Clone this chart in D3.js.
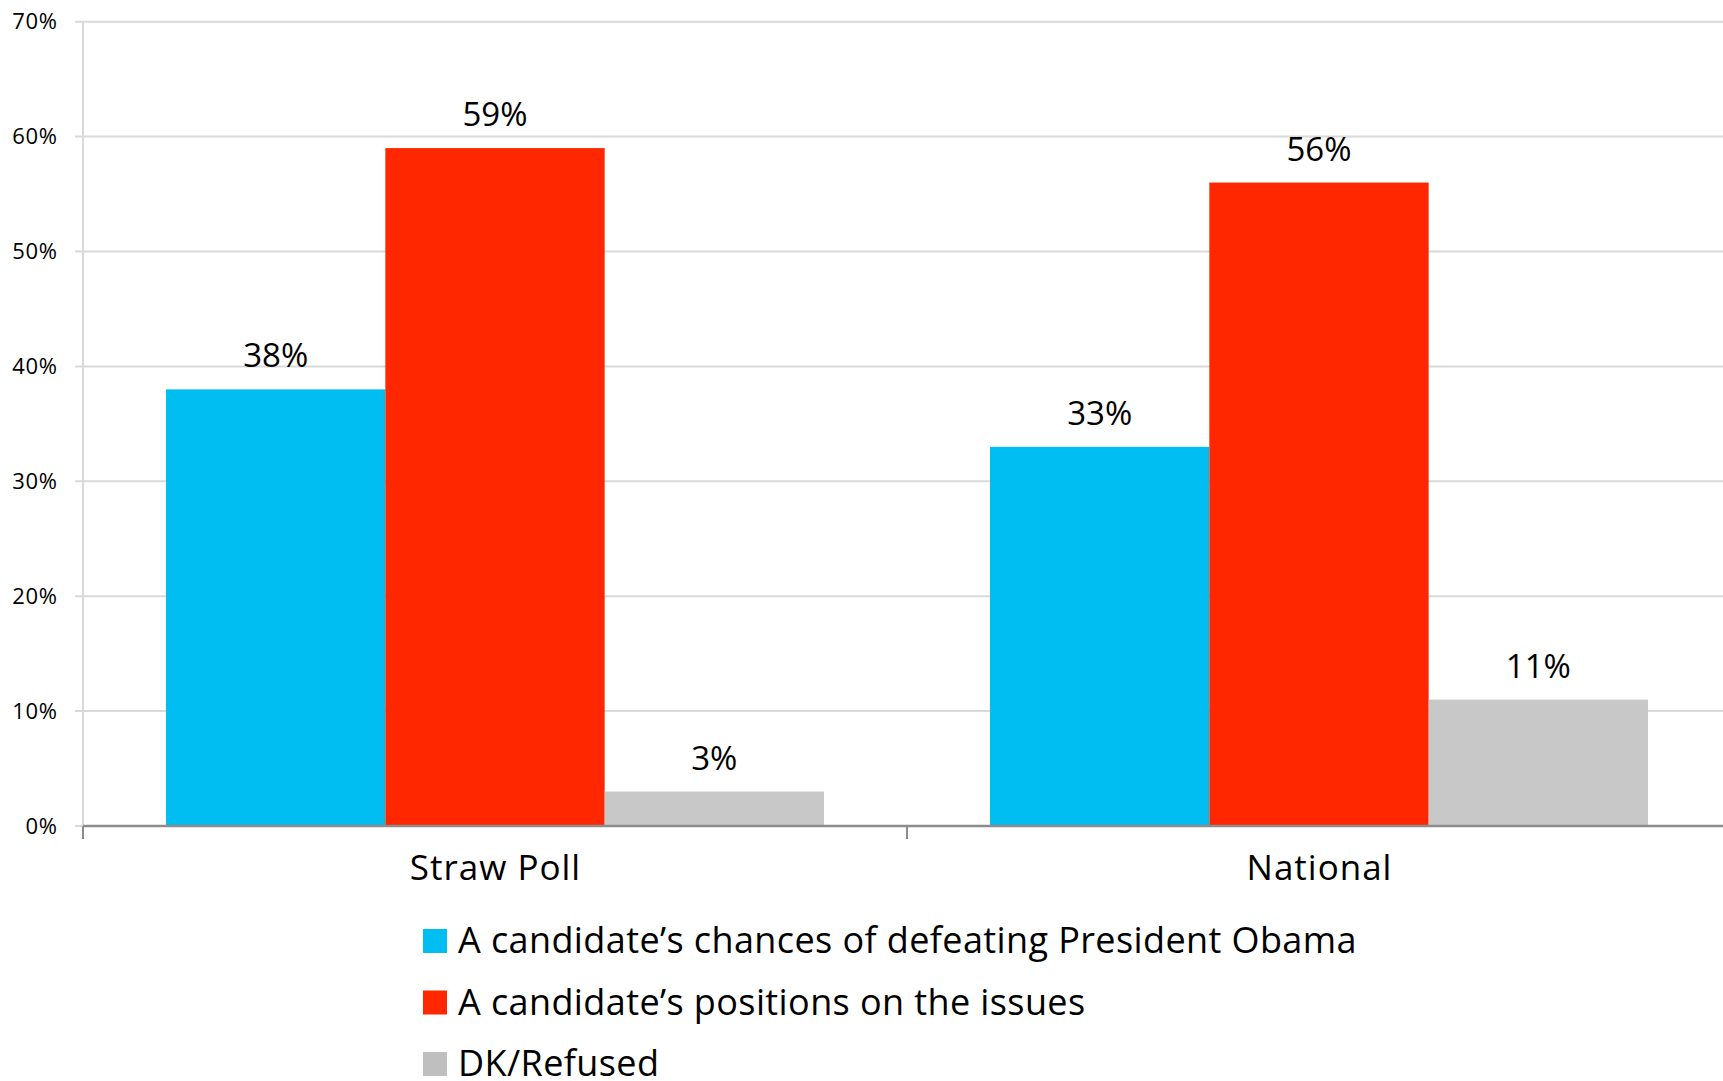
<!DOCTYPE html>
<html>
<head>
<meta charset="utf-8">
<script src="https://cdn.jsdelivr.net/npm/d3@7"></script>
<style>
  html, body { margin: 0; padding: 0; background: #fff; }
  svg { display: block; font-family: "Open Sans", sans-serif; }
</style>
</head>
<body>
<svg id="chart" width="1723" height="1081"></svg>
<script>
const categories = ["Straw Poll", "National"];
const seriesNames = [
  "A candidate\u2019s chances of defeating President Obama",
  "A candidate\u2019s positions on the issues",
  "DK/Refused"
];
const chancesValues = [38, 33];
const positionsValues = [59, 56];
const dkValues = [3, 11];
const yTicks = [0, 10, 20, 30, 40, 50, 60, 70];
const colors = ["#00bdf2", "#ff2700", "#c8c8c8"];
const legendColors = ["#00bdf2", "#ff2700", "#bfbfbf"];

const seriesValues = [chancesValues, positionsValues, dkValues];

(function () {
const svg = d3.select("#chart");
const left = 83, bandW = 824, plotTop = 21.7, plotBottom = 826;

const x0 = d3.scaleBand().domain(categories).range([left, left + bandW * categories.length]).padding(0);
const x1 = d3.scaleBand().domain(seriesNames).range([83, 741]).padding(0);
const y = d3.scaleLinear().domain([0, 70]).range([plotBottom, plotTop]);

// gridlines
const grid = svg.append("g");
grid.selectAll("line").data(yTicks.filter(d => d > 0)).join("line")
  .attr("x1", 75).attr("x2", 1723)
  .attr("y1", d => y(d)).attr("y2", d => y(d))
  .attr("stroke", "#d9d9d9").attr("stroke-width", 2);
// y axis line
svg.append("line").attr("x1", left).attr("x2", left).attr("y1", plotTop).attr("y2", plotBottom)
  .attr("stroke", "#d9d9d9").attr("stroke-width", 2);
// 0 tick stub
svg.append("line").attr("x1", 75).attr("x2", left).attr("y1", y(0)).attr("y2", y(0))
  .attr("stroke", "#d9d9d9").attr("stroke-width", 2);

// y tick labels
const yAxis = d3.axisLeft(y).tickValues(yTicks).tickFormat(d => d + "%").tickSize(0).tickPadding(0);
const yG = svg.append("g").attr("transform", `translate(57.5,0)`).call(yAxis);
yG.select(".domain").remove();
yG.selectAll("text").attr("font-size", 22).attr("fill", "#000")
  .attr("font-family", "Open Sans, sans-serif").attr("letter-spacing", 0.6);

// bars
const groups = svg.append("g").selectAll("g").data(categories).join("g")
  .attr("transform", d => `translate(${x0(d)},0)`);
groups.each(function(cat, ci) {
  const g = d3.select(this);
  seriesNames.forEach((s, si) => {
    const v = seriesValues[si][ci];
    g.append("rect")
      .attr("x", x1(s)).attr("width", x1.bandwidth())
      .attr("y", y(v)).attr("height", y(0) - y(v))
      .attr("fill", colors[si]);
    g.append("text")
      .attr("x", x1(s) + x1.bandwidth() / 2)
      .attr("y", y(v) - 22)
      .attr("text-anchor", "middle")
      .attr("font-size", 33)
      .attr("fill", "#000")
      .text(v + "%");
  });
});

// x axis
const xG = svg.append("g").attr("transform", `translate(0,${plotBottom})`);
xG.append("line").attr("x1", left).attr("x2", 1723).attr("y1", 0).attr("y2", 0)
  .attr("stroke", "#8c8c8c").attr("stroke-width", 2.5);
xG.selectAll(".tk").data([0, 1, 2]).join("line")
  .attr("class", "tk")
  .attr("x1", d => left + d * bandW).attr("x2", d => left + d * bandW)
  .attr("y1", 0).attr("y2", 13)
  .attr("stroke", "#8c8c8c").attr("stroke-width", 2);
xG.selectAll(".cat").data(categories).join("text")
  .attr("class", "cat")
  .attr("x", d => x0(d) + x0.bandwidth() / 2 + 0.5)
  .attr("y", 54)
  .attr("text-anchor", "middle")
  .attr("font-size", 35)
  .attr("letter-spacing", 1)
  .attr("fill", "#000")
  .text(d => d);

// legend
const legend = svg.append("g");
seriesNames.forEach((s, i) => {
  const yy = 929 + i * 61.5;
  legend.append("rect").attr("x", 423).attr("y", yy).attr("width", 24).attr("height", 24)
    .attr("fill", legendColors[i]);
  legend.append("text").attr("x", 458).attr("y", yy + 24)
    .attr("font-size", 36).attr("letter-spacing", 0.4).attr("fill", "#000").text(s);
});
})();
</script>
</body>
</html>
